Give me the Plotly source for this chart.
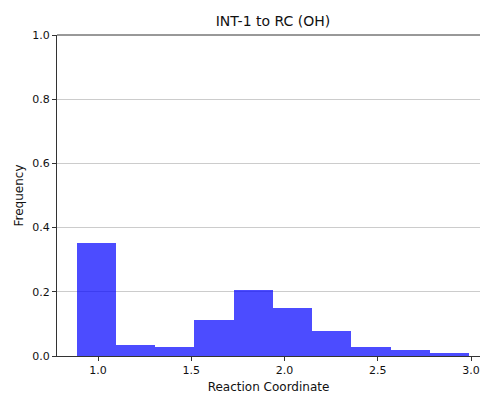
import plotly.graph_objects as go

bin_start = 0.886
bin_width = 0.2103
frequencies = [0.351, 0.033, 0.028, 0.113, 0.205, 0.148, 0.078, 0.028, 0.018, 0.009]
centers = [bin_start + bin_width * (i + 0.5) for i in range(len(frequencies))]

x_ticks = [1.0, 1.5, 2.0, 2.5, 3.0]
y_ticks = [0.0, 0.2, 0.4, 0.6, 0.8, 1.0]

fig = go.Figure()
fig.add_trace(go.Bar(
    x=centers, y=frequencies, width=bin_width,
    marker=dict(color="rgba(0,0,255,0.7)", line=dict(width=0)),
    showlegend=False,
))

font = "DejaVu Sans, sans-serif"
fig.update_layout(
    width=480, height=394,
    margin=dict(l=57, r=0, t=35, b=38),
    plot_bgcolor="white", paper_bgcolor="white",
    bargap=0,
    font=dict(family=font, size=11, color="#111"),
    title=dict(text="INT-1 to RC (OH)", x=273/480, xanchor="center", y=1 - 21/394, yanchor="middle",
               font=dict(size=14, family=font, color="#111")),
    xaxis=dict(range=[0.78, 3.048], tickvals=x_ticks, ticktext=[f"{v:.1f}" for v in x_ticks],
               showgrid=False, zeroline=False, showline=True, linecolor="#333", linewidth=1,
               ticks="outside", ticklen=4, tickcolor="#333",
               title=dict(text="Reaction Coordinate", font=dict(size=12), standoff=6)),
    yaxis=dict(range=[0, 1.0], tickvals=y_ticks, ticktext=[f"{v:.1f}" for v in y_ticks],
               showgrid=True, gridcolor="#cccccc", gridwidth=1, zeroline=False,
               showline=True, linecolor="#333", linewidth=1,
               ticks="outside", ticklen=4, tickcolor="#333",
               title=dict(text="Frequency", font=dict(size=12), standoff=6)),
    shapes=[dict(type="line", xref="paper", yref="paper", x0=0, x1=1, y0=1, y1=1,
                 line=dict(color="#333", width=1))],
)

fig.write_html("out.html")
